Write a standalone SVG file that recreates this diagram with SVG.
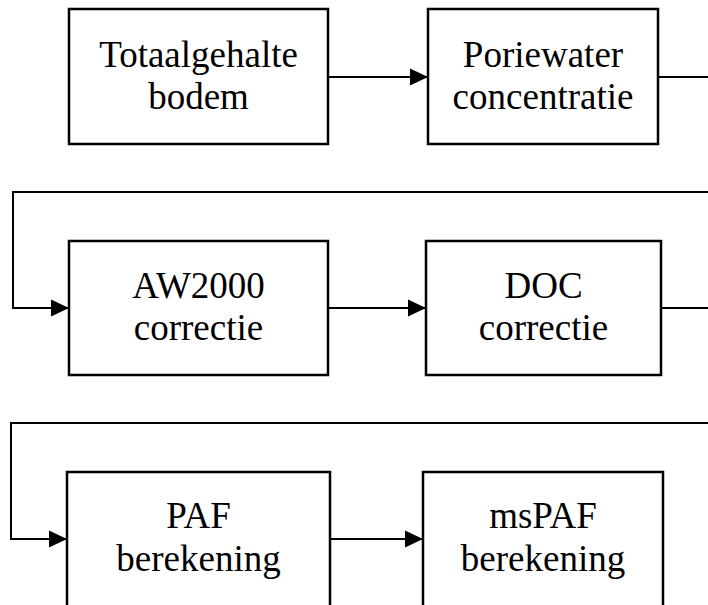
<svg xmlns="http://www.w3.org/2000/svg" width="708" height="605" viewBox="0 0 708 605">
<style>
.box{fill:#fff;stroke:#000;stroke-width:2.5}
.ln{fill:none;stroke:#000;stroke-width:2}
.t{font-family:'Liberation Serif','Times New Roman',Times,'DejaVu Serif',serif;font-size:37px;text-anchor:middle;fill:#000}
</style>
<defs>
<marker id="ah" markerUnits="userSpaceOnUse" markerWidth="18" markerHeight="18" refX="18" refY="8.5" orient="auto" viewBox="0 0 18 17">
<path d="M0,0 L18,8.5 L0,17 Z" fill="#000"/>
</marker>
</defs>
<g id="connectors">
<line class="ln" x1="328" y1="77" x2="428" y2="77" marker-end="url(#ah)"/>
<line class="ln" x1="658" y1="77" x2="708" y2="77"/>
<polyline class="ln" points="708,192 13,192 13,308 69,308" marker-end="url(#ah)"/>
<line class="ln" x1="328" y1="308" x2="426" y2="308" marker-end="url(#ah)"/>
<line class="ln" x1="661" y1="308" x2="708" y2="308"/>
<polyline class="ln" points="708,423 11,423 11,539 67,539" marker-end="url(#ah)"/>
<line class="ln" x1="330" y1="539" x2="423" y2="539" marker-end="url(#ah)"/>
</g>
<g id="n1">
<rect class="box" x="69" y="9" width="259" height="135"/>
<text class="t" x="198.5" y="67">Totaalgehalte</text>
<text class="t" x="198.5" y="109">bodem</text>
</g>
<g id="n2">
<rect class="box" x="428" y="9" width="230" height="135"/>
<text class="t" x="543" y="67">Poriewater</text>
<text class="t" x="543" y="109">concentratie</text>
</g>
<g id="n3">
<rect class="box" x="69" y="241" width="259" height="134"/>
<text class="t" x="198.5" y="298">AW2000</text>
<text class="t" x="198.5" y="340">correctie</text>
</g>
<g id="n4">
<rect class="box" x="426" y="241" width="235" height="134"/>
<text class="t" x="543.5" y="298">DOC</text>
<text class="t" x="543.5" y="340">correctie</text>
</g>
<g id="n5">
<rect class="box" x="67" y="472" width="263" height="150"/>
<text class="t" x="198.5" y="528">PAF</text>
<text class="t" x="198.5" y="571">berekening</text>
</g>
<g id="n6">
<rect class="box" x="423" y="472" width="240" height="150"/>
<text class="t" x="543" y="528">msPAF</text>
<text class="t" x="543" y="571">berekening</text>
</g>
</svg>
